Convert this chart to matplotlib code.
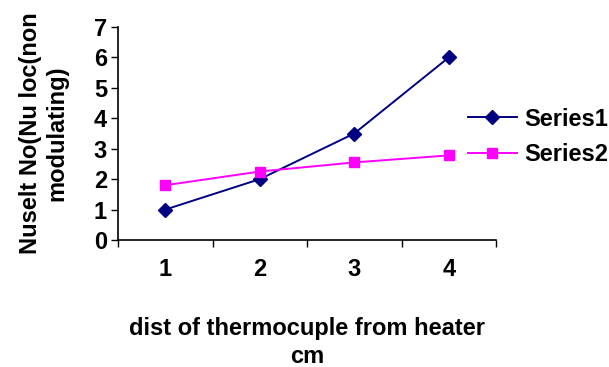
import matplotlib
matplotlib.use("Agg")
import matplotlib.pyplot as plt
import numpy as np

# distance categories and Nusselt number readings
positions = [1, 2, 3, 4]
tick_labels = ["1", "2", "3", "4"]
series1 = [1.0, 2.0, 3.5, 6.0]
series2 = [1.8, 2.25, 2.55, 2.78]

plt.rcParams['font.family'] = ['Liberation Sans', 'DejaVu Sans']
plt.rcParams['font.weight'] = 'bold'
FS = 17

fig = plt.figure(figsize=(6.09, 3.67), dpi=100)
ax = fig.add_axes([118/609, 1-240/367, (496-118)/609, (240-27)/367])

ax.plot(positions, series1, color="#000080", marker="D", markersize=7, lw=1.4, label="Series1")
ax.plot(positions, series2, color="#FF00FF", marker="s", markersize=7.5, lw=1.4, label="Series2")

ax.set_xlim(0.5, 4.5)
ax.set_ylim(0, 7)
ax.set_yticks(range(0, 8))
ax.set_xticks(positions)
ax.set_xticklabels(tick_labels)
ax.set_xticks(np.arange(0.5, 4.6, 1.0), minor=True)
ax.tick_params(axis='x', which='major', length=0, pad=13, labelsize=FS)
ax.tick_params(axis='x', which='minor', length=5, direction='out', width=1)
ax.tick_params(axis='y', length=5, direction='out', width=1, labelsize=FS, pad=3)
for lab in ax.get_xticklabels() + ax.get_yticklabels():
    lab.set_fontweight('bold')

ax.spines['top'].set_visible(False)
ax.spines['right'].set_visible(False)
for s in ['left', 'bottom']:
    ax.spines[s].set_linewidth(1.2)

ax.set_ylabel("Nuselt No(Nu loc(non\nmodulating)", fontsize=FS, fontweight='bold', labelpad=18, linespacing=1.2)
ax.set_xlabel("dist of thermocuple from heater\ncm", fontsize=FS, fontweight='bold', labelpad=26, linespacing=1.25)

fig.legend(loc='center left', bbox_to_anchor=(468/609, 1-137/367), frameon=False,
           prop={'weight': 'bold', 'size': FS}, handlelength=2.07, labelspacing=0.55,
           handletextpad=0.3, borderpad=0, borderaxespad=0)

fig.savefig("out.png", dpi=100)
